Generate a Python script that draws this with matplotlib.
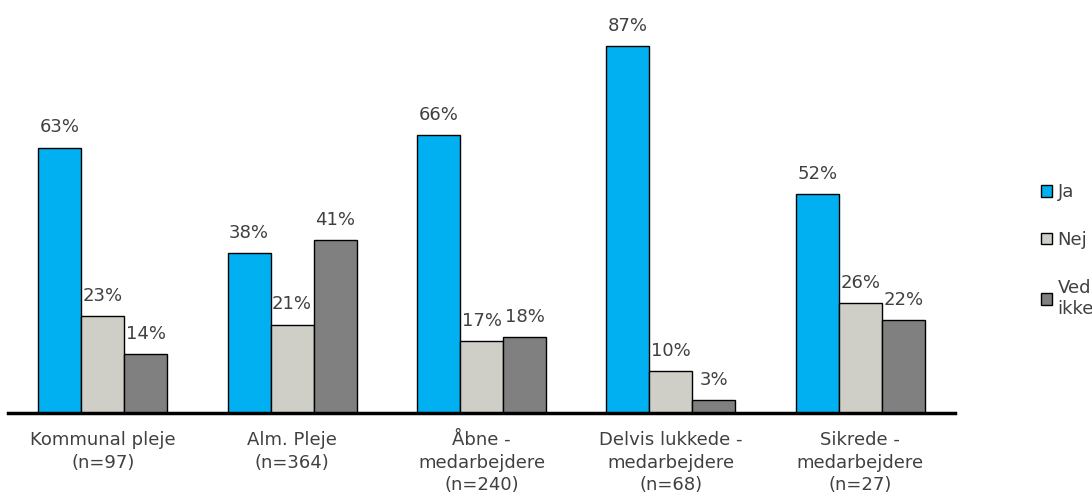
import matplotlib.pyplot as plt
import numpy as np

categories = ["Kommunal pleje\n(n=97)", "Alm. Pleje\n(n=364)", "Åbne -\nmedarbejdere\n(n=240)",
              "Delvis lukkede -\nmedarbejdere\n(n=68)", "Sikrede -\nmedarbejdere\n(n=27)"]
series = ["Ja", "Nej", "Ved ikke"]
ja = [63, 38, 66, 87, 52]
nej = [23, 21, 17, 10, 26]
ved_ikke = [14, 41, 18, 3, 22]
colors = ["#00B0F0", "#D0CFC7", "#808080"]

W, H = 1092, 496
fig = plt.figure(figsize=(W / 100, H / 100), dpi=100)
ax = fig.add_axes([8 / W, 83 / H, 947 / W, 413 / H])

txt = "#404040"
x = np.arange(len(categories))
bw = 0.227
for i, (vals, name, c) in enumerate(zip([ja, nej, ved_ikke], series, colors)):
    pos = x + (i - 1) * bw
    bars = ax.bar(pos, vals, bw, color=c, edgecolor="black", linewidth=1,
                  label=name.replace(" ", "\n"))
    for b, v in zip(bars, vals):
        ax.text(b.get_x() + b.get_width() / 2, v + 4.8, f"{v}%", ha="center",
                va="center", fontsize=13, color=txt)

ax.set_xlim(-0.5, len(categories) - 0.5)
ax.set_ylim(0, 98)
ax.set_yticks([])
ax.set_xticks(x)
ax.set_xticklabels(categories, fontsize=13, color=txt, linespacing=1.32)
ax.tick_params(axis="x", length=0, pad=13)
for s in ["top", "left", "right"]:
    ax.spines[s].set_visible(False)
ax.spines["bottom"].set_linewidth(2.5)

fig.legend(loc="upper left", bbox_to_anchor=(1025 / W, 1 - 167 / H), frameon=False,
           fontsize=13, labelcolor=txt, handlelength=0.6, handleheight=0.6,
           handletextpad=0.3, labelspacing=1.65)

fig.savefig("out.png", dpi=100)
